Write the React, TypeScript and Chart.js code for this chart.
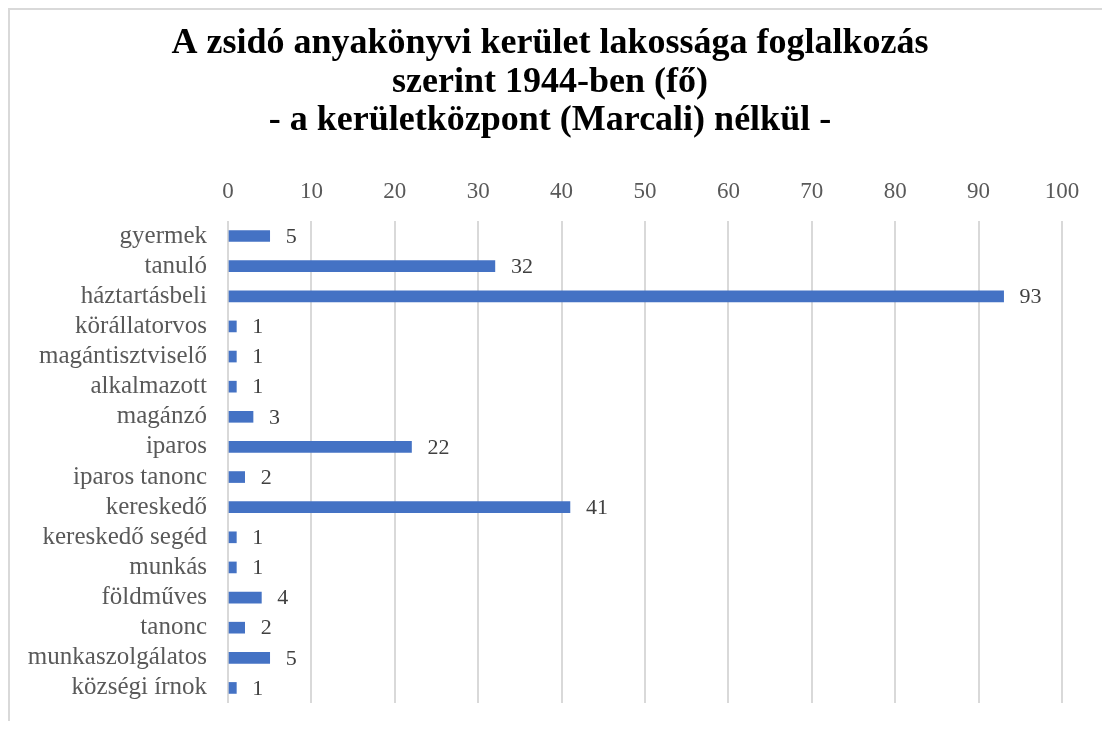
import React, { useEffect, useRef } from "react";
import { Chart, registerables } from "chart.js";

Chart.register(...registerables);

const titleLines = [
  "A zsidó anyakönyvi kerület lakossága foglalkozás",
  "szerint 1944-ben (fő)",
  "- a kerületközpont (Marcali) nélkül -",
];

const categories = [
  "gyermek",
  "tanuló",
  "háztartásbeli",
  "körállatorvos",
  "magántisztviselő",
  "alkalmazott",
  "magánzó",
  "iparos",
  "iparos tanonc",
  "kereskedő",
  "kereskedő segéd",
  "munkás",
  "földműves",
  "tanonc",
  "munkaszolgálatos",
  "községi írnok",
];

const values = [5, 32, 93, 1, 1, 1, 3, 22, 2, 41, 1, 1, 4, 2, 5, 1];

const axisMin = 0;
const axisMax = 100;
const axisStep = 10;

const FONT = "'Liberation Serif', 'Times New Roman', serif";

const dataLabelPlugin = {
  id: "dataLabels",
  afterDatasetsDraw(chart: any) {
    const ctx = chart.ctx;
    const meta = chart.getDatasetMeta(0);
    ctx.save();
    ctx.font = `22px ${FONT}`;
    ctx.fillStyle = "#404040";
    ctx.textAlign = "left";
    ctx.textBaseline = "middle";
    meta.data.forEach((bar: any, i: number) => {
      ctx.fillText(String(values[i]), bar.x + 16, bar.y + 1);
    });
    ctx.restore();
  },
};

export default function App() {
  const canvasRef = useRef<HTMLCanvasElement | null>(null);

  useEffect(() => {
    document.body.style.overflow = "hidden";
    const canvas = canvasRef.current;
    if (!canvas) return;
    const chart = new Chart(canvas, {
      type: "bar",
      data: {
        labels: categories,
        datasets: [
          {
            data: values,
            backgroundColor: "#4472C4",
            borderWidth: 0,
            barThickness: 11,
          },
        ],
      },
      options: {
        indexAxis: "y",
        responsive: false,
        animation: false,
        layout: { padding: { left: 8, right: 28, top: 0, bottom: 18 } },
        plugins: {
          legend: { display: false },
          tooltip: { enabled: false },
          title: {
            display: true,
            text: titleLines,
            color: "#000000",
            font: { family: FONT, size: 36, weight: "bold", lineHeight: 1.06 },
            padding: { top: 15, bottom: 37.5 },
          },
        },
        scales: {
          x: {
            position: "top",
            min: axisMin,
            max: axisMax,
            ticks: {
              stepSize: axisStep,
              color: "#595959",
              font: { family: FONT, size: 23 },
              padding: 15,
            },
            grid: { color: "#d9d9d9", lineWidth: 2, drawTicks: false },
            border: { display: false },
            afterFit(scale: any) {
              scale.height = 44;
              scale.paddingRight = 48;
            },
          },
          y: {
            ticks: {
              color: "#595959",
              font: { family: FONT, size: 25 },
              padding: 21,
              autoSkip: false,
            },
            grid: { display: false, drawTicks: false },
            border: { display: false },
            afterFit(scale: any) {
              scale.width = 210;
              scale.paddingTop = 0;
              scale.paddingBottom = 0;
            },
          },
        },
      },
      plugins: [dataLabelPlugin],
    });
    return () => chart.destroy();
  }, []);

  return (
    <div
      style={{
        width: 1102,
        height: 713,
        boxSizing: "border-box",
        borderLeft: "2px solid #d9d9d9",
        borderTop: "2px solid #d9d9d9",
        background: "#ffffff",
        overflow: "hidden",
      }}
    >
      <canvas ref={canvasRef} width={1100} height={711} style={{ display: "block" }} />
    </div>
  );
}
